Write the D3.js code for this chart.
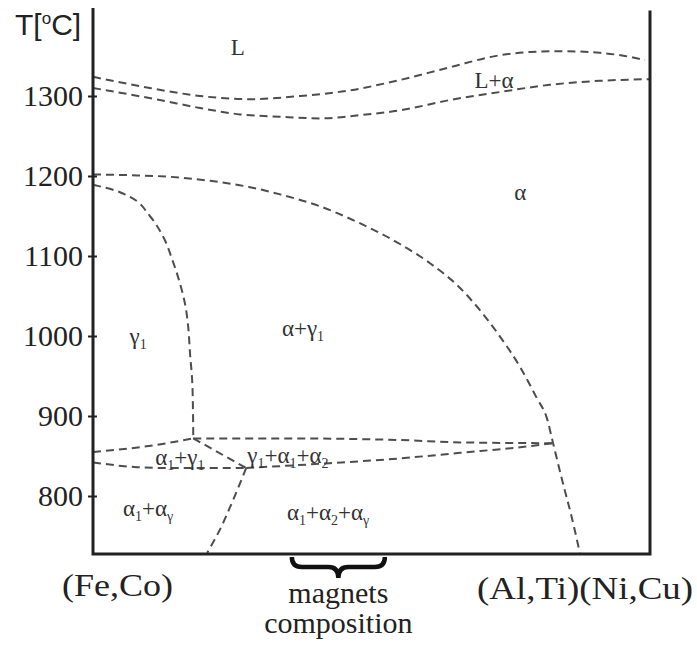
<!DOCTYPE html>
<html>
<head>
<meta charset="utf-8">
<script src="https://cdn.jsdelivr.net/npm/d3@7"></script>
<style>
  body { margin: 0; background: #fff; }
  svg { display: block; }
</style>
</head>
<body>
<script>
// phase boundaries, composition in % (0 = (Fe,Co), 100 = (Al,Ti)(Ni,Cu)), temperature in degC
const liquidus = [[0, 1324], [10.2, 1310], [19.2, 1300], [28.2, 1296], [37.2, 1300], [46.1, 1307],
  [55.1, 1320], [64.1, 1336], [73.1, 1351], [78.5, 1355], [83.8, 1356], [91, 1354], [95.5, 1350], [99.1, 1345]];
const solidus = [[0, 1310], [12, 1295], [19.2, 1285], [26.4, 1277], [33.6, 1274], [40.8, 1272],
  [47.9, 1276], [55.1, 1282], [64.1, 1295], [73.1, 1305], [82, 1314], [91, 1319], [100, 1321]];
const alphaSolvus = [[0, 1202], [6.6, 1201], [13.8, 1199], [21, 1194], [28.2, 1186], [33.6, 1177],
  [40.8, 1162], [47.9, 1141], [55.1, 1115], [60.5, 1091], [65.9, 1060], [69.5, 1032], [73.1, 999],
  [76.7, 961], [79.7, 922], [81.5, 897], [82.6, 866], [84.4, 815], [86, 772], [87.4, 729]];
const gammaBoundary = [[0, 1189], [3.95, 1182], [6.6, 1174], [10.2, 1150], [12.6, 1124], [14.4, 1092],
  [15.6, 1066], [16.5, 1041], [17.1, 1011], [17.4, 980], [17.8, 945], [17.95, 907], [18, 872]];
const upperLeft = [[0, 855], [11.5, 864], [18, 872]];
const upperRight = [[18, 872], [33.6, 872], [55.1, 870], [65.9, 867], [82.6, 866]];
const lowerLeft = [[0, 842], [7.9, 836], [12.6, 835], [27.5, 835]];
const apexDiag = [[18, 872], [27.5, 835]];
const lowerMiddle = [[27.5, 835], [42.5, 841], [55.1, 847], [65.9, 854], [76.7, 861], [82.6, 866]];
const lowerDiag = [[27.5, 835], [24.6, 786], [23, 761], [20.5, 729]];

// x-monotone ones and y-monotone ones get different curve fits
const boundariesX = [liquidus, solidus, alphaSolvus, upperLeft, upperRight, lowerLeft, apexDiag, lowerMiddle];
const boundariesY = [gammaBoundary, lowerDiag];

// region names, "_x" means subscript x
const regionNames = ['L', 'L+α', 'α', 'γ_1', 'α+γ_1', 'α_1+γ_1', 'γ_1+α_1+α_2', 'α_1+α_γ', 'α_1+α_2+α_γ'];
const regionPos = [[26, 1361], [72, 1320], [76.7, 1180], [8.1, 1000], [37.7, 1010], [15.6, 849],
  [35, 851], [9.9, 785], [42.2, 780]];

const tempTicks = [800, 900, 1000, 1100, 1200, 1300];
const magnetRange = [35.7, 52.4];

const W = 697, H = 648;
const serif = '"Liberation Serif", "Times New Roman", serif';
const x = d3.scaleLinear().domain([0, 100]).range([93, 650]);
const y = d3.scaleLinear().domain([727.5, 1410]).range([554, 8]);

const svg = d3.select('body').append('svg')
  .attr('width', W)
  .attr('height', H);

// boundaries
const lineX = d3.line().x(d => x(d[0])).y(d => y(d[1])).curve(d3.curveMonotoneX);
const lineY = d3.line().x(d => x(d[0])).y(d => y(d[1])).curve(d3.curveMonotoneY);

const dashed = sel => sel
  .attr('fill', 'none')
  .attr('stroke', '#4d4d4d')
  .attr('stroke-width', 2)
  .attr('stroke-dasharray', '8,5');

svg.append('g')
  .selectAll('path')
  .data(boundariesX)
  .enter().append('path')
    .attr('d', lineX)
    .call(dashed);
svg.append('g')
  .selectAll('path')
  .data(boundariesY)
  .enter().append('path')
    .attr('d', lineY)
    .call(dashed);

// frame: left axis, bottom, right side
const yAxis = svg.append('g')
  .attr('transform', `translate(${x(0)},0)`)
  .call(d3.axisLeft(y).tickValues(tempTicks).tickSize(5).tickPadding(5).tickFormat(d3.format('d')));
yAxis.attr('font-family', null).attr('font-size', null);
yAxis.select('.domain').remove();
yAxis.selectAll('.tick line').attr('x1', 4).attr('stroke', '#222').attr('stroke-width', 2);
yAxis.selectAll('.tick text')
  .style('font-family', serif)
  .style('font-size', '30px')
  .attr('fill', '#222');

svg.append('path')
  .attr('d', `M${x(0)},${y(1410)} V${y(727.5)} H${x(100)} V${y(1407)}`)
  .attr('fill', 'none')
  .attr('stroke', '#222')
  .attr('stroke-width', 3);

// axis title
const title = svg.append('text')
  .attr('x', 15)
  .attr('y', 35)
  .attr('font-family', '"Liberation Sans", Arial, sans-serif')
  .attr('font-size', 30)
  .attr('fill', '#222');
title.append('tspan').text('T[');
title.append('tspan').attr('font-size', 17).attr('dy', -11).text('o');
title.append('tspan').attr('dy', 11).text('C]');

// region labels
const labels = svg.append('g').attr('font-family', serif);
regionNames.forEach((name, i) => {
  const t = labels.append('text')
    .attr('x', x(regionPos[i][0]))
    .attr('y', y(regionPos[i][1]) + 8)
    .attr('text-anchor', 'middle')
    .attr('font-size', 23)
    .attr('fill', '#333');
  const parts = name.split(/(_.)/).filter(s => s.length);
  let shifted = false;
  parts.forEach(p => {
    if (p[0] === '_') {
      t.append('tspan').attr('font-size', 14).attr('dy', 5).text(p.slice(1));
      shifted = true;
    } else {
      t.append('tspan').attr('dy', shifted ? -5 : 0).text(p);
      shifted = false;
    }
  });
});

// end labels
svg.append('text')
  .attr('font-family', serif)
  .attr('x', 62).attr('y', 596)
  .attr('font-size', 32)
  .attr('textLength', 111)
  .attr('lengthAdjust', 'spacingAndGlyphs')
  .attr('fill', '#222')
  .text('(Fe,Co)');
svg.append('text')
  .attr('font-family', serif)
  .attr('x', 477).attr('y', 599)
  .attr('font-size', 32)
  .attr('textLength', 216)
  .attr('lengthAdjust', 'spacingAndGlyphs')
  .attr('fill', '#222')
  .text('(Al,Ti)(Ni,Cu)');

// brace for magnets composition
const bx0 = x(magnetRange[0]), bx1 = x(magnetRange[1]), bm = (bx0 + bx1) / 2;
const by0 = 557, byMid = 567, byTip = 578, q = 10;
svg.append('path')
  .attr('d', `M${bx0},${by0} Q${bx0},${byMid} ${bx0 + q},${byMid} L${bm - q},${byMid} ` +
    `Q${bm},${byMid} ${bm},${byTip} Q${bm},${byMid} ${bm + q},${byMid} L${bx1 - q},${byMid} ` +
    `Q${bx1},${byMid} ${bx1},${by0}`)
  .attr('fill', 'none')
  .attr('stroke', '#111')
  .attr('stroke-width', 4.5);

svg.append('text')
  .attr('font-family', serif)
  .attr('x', bm).attr('y', 603)
  .attr('text-anchor', 'middle')
  .attr('font-size', 30)
  .attr('fill', '#222')
  .text('magnets');
svg.append('text')
  .attr('font-family', serif)
  .attr('x', bm).attr('y', 633)
  .attr('text-anchor', 'middle')
  .attr('font-size', 30)
  .attr('fill', '#222')
  .text('composition');
</script>
</body>
</html>
